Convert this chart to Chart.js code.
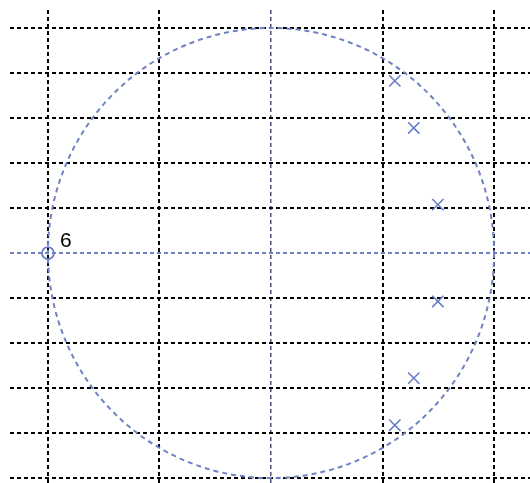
<!DOCTYPE html>
<html>
<head>
<meta charset="utf-8">
<script src="https://cdn.jsdelivr.net/npm/chart.js@4/dist/chart.umd.min.js"></script>
<style>
html,body{margin:0;padding:0;background:#fff;}
canvas{display:block;}
</style>
</head>
<body>
<canvas id="c" width="530" height="483"></canvas>
<script>
// Data
const poleRe = [0.555, 0.640, 0.748, 0.748, 0.640, 0.555];
const poleIm = [0.765, 0.556, 0.215, -0.215, -0.556, -0.765];
const zeroRe = [-1];
const zeroIm = [0];
const zeroLabels = ['6'];
const xTicks = [-1, -0.5, 0, 0.5, 1];
const yTicks = [-1, -0.8, -0.6, -0.4, -0.2, 0, 0.2, 0.4, 0.6, 0.8, 1];

const blue = 'rgb(104,124,200)';

const unitCircle = {
  id: 'unitCircle',
  beforeDatasetsDraw(chart) {
    const {ctx, scales: {x, y}, chartArea} = chart;
    const cx = x.getPixelForValue(0), cy = y.getPixelForValue(0);
    const rx = x.getPixelForValue(1) - cx, ry = cy - y.getPixelForValue(1);
    ctx.save();
    ctx.beginPath();
    ctx.rect(chartArea.left, chartArea.top, chartArea.right - chartArea.left, chartArea.bottom - chartArea.top);
    ctx.clip();
    ctx.strokeStyle = 'rgb(112,130,196)';
    ctx.lineWidth = 2;
    ctx.setLineDash([5, 4]);
    ctx.beginPath();
    ctx.ellipse(cx, cy, rx, ry, 0, 0, Math.PI * 2);
    ctx.stroke();
    ctx.restore();
  },
  afterDatasetsDraw(chart) {
    const {ctx, scales: {x, y}} = chart;
    ctx.save();
    ctx.fillStyle = '#000';
    ctx.font = '21px "Liberation Sans", Arial, sans-serif';
    ctx.textBaseline = 'alphabetic';
    zeroLabels.forEach((t, i) => {
      const px = x.getPixelForValue(zeroRe[i]);
      const py = y.getPixelForValue(zeroIm[i]);
      ctx.fillText(t, px + 12, py - 6);
    });
    ctx.restore();
  }
};

new Chart(document.getElementById('c'), {
  type: 'scatter',
  data: {
    datasets: [
      {
        data: poleRe.map((v, i) => ({x: v, y: poleIm[i]})),
        pointStyle: 'crossRot',
        radius: 8,
        borderColor: blue,
        borderWidth: 1.6,
        backgroundColor: blue
      },
      {
        data: zeroRe.map((v, i) => ({x: v, y: zeroIm[i]})),
        pointStyle: 'circle',
        radius: 6,
        borderColor: blue,
        borderWidth: 1.8,
        backgroundColor: 'rgba(0,0,0,0)'
      }
    ]
  },
  options: {
    responsive: false,
    animation: false,
    layout: {autoPadding: false, padding: {left: 10, top: 10, right: 0, bottom: 0}},
    plugins: {legend: {display: false}, tooltip: {enabled: false}},
    scales: {
      x: {
        type: 'linear',
        min: -1.170,
        max: 1.161,
        afterBuildTicks: (s) => { s.ticks = xTicks.map(v => ({value: v})); },
        afterFit: (s) => { s.height = 0; s.paddingLeft = 0; s.paddingRight = 0; },
        ticks: {display: false},
        grid: {
          drawTicks: false,
          color: (c) => c.tick && c.tick.value === 0 ? 'rgb(70,80,120)' : '#000',
          lineWidth: (c) => c.tick && c.tick.value === 0 ? 1.5 : 2
        },
        border: {display: false, dash: [4, 3]}
      },
      y: {
        type: 'linear',
        min: -1.022,
        max: 1.08,
        afterBuildTicks: (s) => { s.ticks = yTicks.map(v => ({value: v})); },
        afterFit: (s) => { s.width = 0; s.paddingTop = 0; s.paddingBottom = 0; },
        ticks: {display: false},
        grid: {
          drawTicks: false,
          color: (c) => c.tick && Math.abs(c.tick.value) < 1e-9 ? 'rgb(112,130,196)' : '#000',
          lineWidth: 2
        },
        border: {display: false, dash: [4, 3]}
      }
    }
  },
  plugins: [unitCircle]
});
</script>
</body>
</html>
